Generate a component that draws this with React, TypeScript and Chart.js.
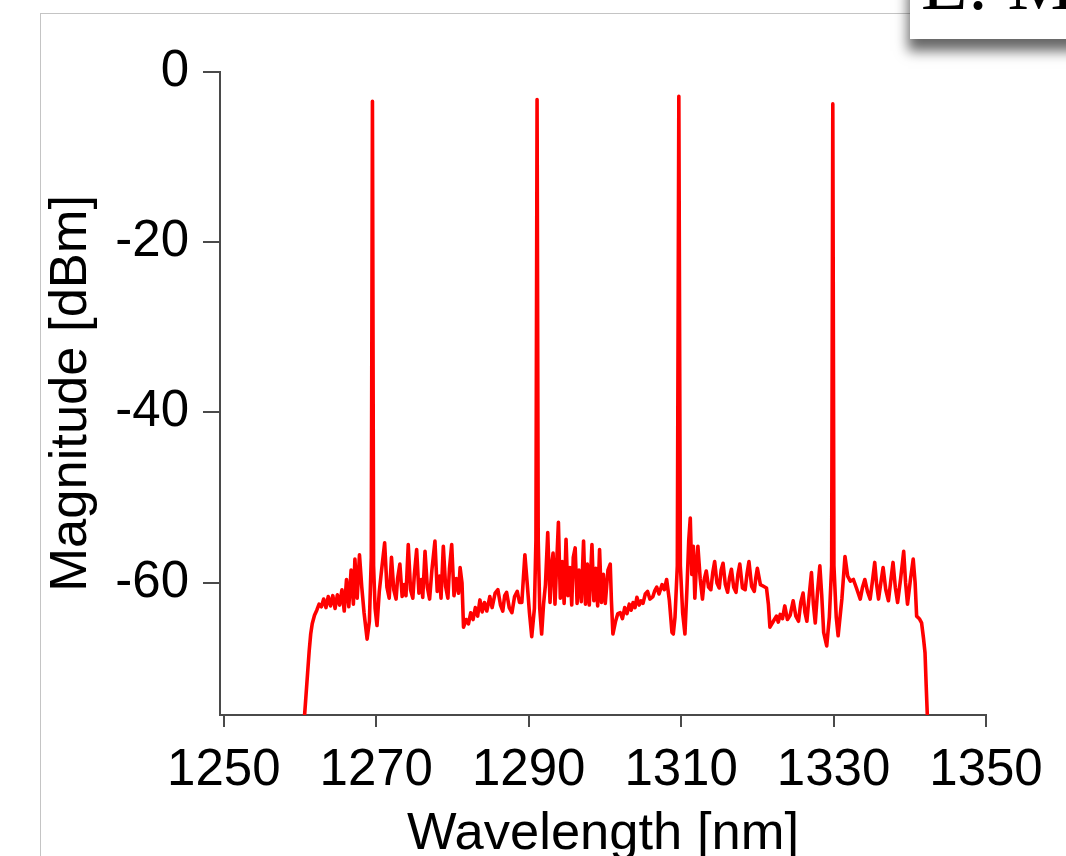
import React, { useEffect, useRef } from 'react';
import { Chart, registerables } from 'chart.js';

Chart.register(...registerables);

// Optical spectrum: [wavelength nm, magnitude dBm]
const spectrum: [number, number][] = [
  [1260.6, -75.5], [1260.8, -73], [1261.0, -70.5], [1261.2, -68], [1261.4, -66], [1261.6, -64.8],
  [1261.9, -63.8], [1262.2, -63.2], [1262.5, -62.5], [1262.8, -62.8], [1263.1, -61.9], [1263.4, -62.9],
  [1263.7, -61.6], [1264.0, -62.7], [1264.3, -61.5], [1264.6, -63.0], [1264.9, -61.4], [1265.2, -62.6],
  [1265.5, -60.8], [1265.8, -63.3], [1266.1, -59.6], [1266.4, -62.8], [1266.7, -58.5], [1267.0, -62.5],
  [1267.2, -57.2], [1267.5, -61.8], [1267.8, -56.7], [1268.1, -60.5], [1268.4, -63.5], [1268.8, -66.6],
  [1269.1, -64.5], [1269.35, -57], [1269.5, -3.5], [1269.65, -58], [1269.85, -63], [1270.1, -65],
  [1270.4, -61], [1270.7, -58.5], [1271.1, -55.3], [1271.4, -60.5], [1271.7, -61.8], [1272.0, -57.0],
  [1272.3, -60.8], [1272.6, -61.9], [1272.8, -59.5], [1273.1, -57.8], [1273.4, -61.6], [1273.7, -60.2],
  [1273.9, -61.5], [1274.2, -55.5], [1274.5, -60.8], [1274.8, -61.8], [1275.0, -59], [1275.3, -56.1],
  [1275.6, -61.2], [1275.9, -59.6], [1276.1, -61.7], [1276.4, -56.3], [1276.7, -60.5], [1277.0, -61.9],
  [1277.3, -58.5], [1277.7, -55.1], [1278.0, -61.0], [1278.3, -59.2], [1278.5, -61.8], [1278.8, -55.7],
  [1279.1, -60.4], [1279.4, -61.8], [1279.6, -58.4], [1279.9, -55.5], [1280.2, -61.5], [1280.5, -59.5],
  [1280.8, -61.2], [1281.0, -58.2], [1281.25, -60], [1281.45, -65.2], [1281.8, -64.3], [1282.1, -64.8],
  [1282.4, -63.5], [1282.7, -64.3], [1283.0, -62.9], [1283.3, -63.9], [1283.6, -62.0], [1283.9, -63.4],
  [1284.2, -62.3], [1284.5, -63.3], [1284.9, -61.6], [1285.2, -62.9], [1285.6, -61.2], [1285.96, -60.8],
  [1286.3, -62.6], [1286.6, -63.3], [1286.85, -61.5], [1287.1, -61.1], [1287.45, -62.9], [1287.8, -63.5],
  [1288.15, -61.6], [1288.5, -61.0], [1288.8, -62.3], [1289.1, -62.3], [1289.3, -59.5], [1289.5, -56.7],
  [1289.8, -60.0], [1290.1, -63.5], [1290.4, -66.3], [1290.75, -63], [1290.95, -55], [1291.1, -3.3],
  [1291.25, -55], [1291.45, -63], [1291.7, -66.0], [1291.95, -62.5], [1292.2, -60.2], [1292.5, -54.1],
  [1292.8, -62.3], [1293.0, -58], [1293.2, -56.5], [1293.45, -62.5], [1293.9, -52.9], [1294.15, -61.8],
  [1294.4, -57.5], [1294.65, -62.4], [1294.9, -54.9], [1295.15, -61.5], [1295.4, -58.2], [1295.65, -62.6],
  [1295.85, -57.0], [1296.1, -55.9], [1296.35, -62.4], [1296.6, -58.5], [1296.9, -62.2], [1297.2, -55.1],
  [1297.45, -62.5], [1297.7, -57.8], [1297.95, -62.6], [1298.3, -55.5], [1298.55, -62.1], [1298.8, -58.3],
  [1299.05, -62.7], [1299.3, -56.1], [1299.55, -62.3], [1299.8, -59], [1300.05, -62.4], [1300.4, -58.5],
  [1300.7, -57.8], [1300.85, -62], [1301.05, -66.0], [1301.4, -64.5], [1301.7, -63.6], [1302.0, -63.5],
  [1302.3, -64.2], [1302.6, -62.9], [1302.9, -63.6], [1303.2, -62.5], [1303.45, -63.2], [1303.7, -62.3],
  [1303.95, -62.9], [1304.2, -61.7], [1304.5, -62.6], [1304.75, -62.1], [1305.0, -62.4], [1305.3, -61.3],
  [1305.6, -61.0], [1305.9, -61.9], [1306.3, -61.6], [1306.55, -60.9], [1306.8, -60.5], [1307.1, -61.3],
  [1307.5, -60.2], [1307.8, -60.8], [1308.1, -59.6], [1308.45, -62], [1308.8, -65.8], [1308.97, -66],
  [1309.2, -64], [1309.5, -58], [1309.7, -2.9], [1309.9, -58], [1310.2, -63.5], [1310.5, -66],
  [1310.75, -61], [1311.0, -55], [1311.2, -52.4], [1311.4, -59], [1311.6, -55.7], [1311.8, -61.8],
  [1312.0, -58], [1312.2, -55.7], [1312.5, -59.5], [1312.8, -61.9], [1313.05, -59.5], [1313.3, -58.6],
  [1313.6, -60.5], [1313.9, -60.8], [1314.15, -58.8], [1314.4, -57.5], [1314.7, -60], [1315.0, -60.6],
  [1315.25, -58.5], [1315.5, -57.7], [1315.8, -60.2], [1316.1, -61.1], [1316.35, -59.4], [1316.6, -58.4],
  [1316.9, -60.5], [1317.2, -61.1], [1317.45, -59], [1317.7, -57.8], [1318.05, -60.6], [1318.4, -60.8],
  [1318.65, -58.9], [1318.9, -57.5], [1319.25, -60.4], [1319.6, -61.0], [1319.8, -59.4], [1320.0, -58.3],
  [1320.4, -60.2], [1320.8, -60.4], [1321.2, -60.6], [1321.45, -62.5], [1321.65, -65.2], [1322.1, -64.5],
  [1322.5, -63.9], [1322.75, -64.6], [1323.0, -63.7], [1323.3, -64.2], [1323.6, -62.7], [1323.95, -64.3],
  [1324.3, -63.8], [1324.7, -62.1], [1325.05, -63.9], [1325.4, -64.5], [1325.7, -62.3], [1326.0, -61.2],
  [1326.25, -63.5], [1326.5, -64.5], [1326.8, -61.5], [1327.1, -58.8], [1327.35, -62.5], [1327.6, -64.7],
  [1327.9, -61.0], [1328.2, -58.0], [1328.45, -61.5], [1328.7, -65.8], [1329.1, -67.4], [1329.45, -64],
  [1329.75, -58], [1329.9, -3.8], [1330.05, -58], [1330.35, -64], [1330.6, -66.2], [1331.1, -61.8],
  [1331.5, -56.9], [1331.85, -59.2], [1332.2, -59.8], [1332.6, -59.6], [1333.0, -60.6], [1333.5, -61.9],
  [1333.8, -60.5], [1334.1, -59.6], [1334.45, -61.0], [1334.8, -61.9], [1335.1, -59.8], [1335.4, -57.6],
  [1335.65, -60.2], [1335.9, -61.9], [1336.2, -60], [1336.5, -58.2], [1336.85, -60.8], [1337.2, -62.1],
  [1337.5, -59.8], [1337.8, -57.6], [1338.1, -60.5], [1338.4, -62.3], [1338.8, -59.5], [1339.2, -56.3],
  [1339.45, -60], [1339.7, -62.5], [1340.1, -59.5], [1340.45, -57.2], [1340.7, -60], [1340.9, -63.9],
  [1341.25, -64.2], [1341.55, -64.7], [1341.8, -66.5], [1342.0, -68.2], [1342.15, -72], [1342.3, -75.5],
];

const xTickValues = [1250, 1270, 1290, 1310, 1330, 1350];
const yTickValues = [-60, -40, -20, 0];

const xLabel = 'Wavelength [nm]';
const yLabel = 'Magnitude [dBm]';
const cornerText = 'E: M';

const FONT = '"Liberation Sans", Arial, sans-serif';
const AXIS = '#4a4a4a';

export default function App() {
  const ref = useRef<HTMLCanvasElement | null>(null);

  useEffect(() => {
    if (!ref.current) return;
    const chart = new Chart(ref.current, {
      type: 'line',
      data: {
        datasets: [
          {
            data: spectrum.map(([x, y]) => ({ x, y })),
            borderColor: '#ff0000',
            borderWidth: 3.6,
            borderJoinStyle: 'round',
            borderCapStyle: 'round',
            pointRadius: 0,
            tension: 0,
            fill: false,
          },
        ],
      },
      options: {
        animation: false,
        responsive: false,
        events: [],
        layout: { padding: { top: 71.5, right: 80, left: 0, bottom: 0 } },
        plugins: { legend: { display: false }, tooltip: { enabled: false } },
        scales: {
          x: {
            type: 'linear',
            min: 1249.5,
            max: 1350,
            afterBuildTicks: (s: any) => {
              s.ticks = xTickValues.map((v) => ({ value: v }));
            },
            afterFit: (s: any) => {
              s.height = 141;
            },
            grid: { drawOnChartArea: false, drawTicks: true, tickLength: 12, color: AXIS, lineWidth: 2 },
            border: { display: true, color: AXIS, width: 2 },
            ticks: {
              padding: 13,
              autoSkip: false,
              maxRotation: 0,
              color: '#000',
              font: { family: FONT, size: 51 },
              callback: (v: any) => String(v),
            },
            title: {
              display: true,
              text: xLabel,
              color: '#000',
              padding: { top: 0, bottom: 0 },
              font: { family: FONT, size: 52.5, lineHeight: 0.8 },
            },
          },
          y: {
            type: 'linear',
            min: -75.5,
            max: 0,
            afterBuildTicks: (s: any) => {
              s.ticks = yTickValues.map((v) => ({ value: v }));
            },
            afterFit: (s: any) => {
              s.width = 220;
            },
            grid: { drawOnChartArea: false, drawTicks: true, tickLength: 17, color: AXIS, lineWidth: 2 },
            border: { display: true, color: AXIS, width: 2 },
            ticks: {
              padding: 14,
              autoSkip: false,
              color: '#000',
              font: { family: FONT, size: 51 },
              callback: (v: any) => String(v),
            },
            title: {
              display: true,
              text: yLabel,
              color: '#000',
              padding: { top: 40, bottom: 0 },
              font: { family: FONT, size: 52.5, lineHeight: 1.2 },
            },
          },
        },
      },
    });
    return () => chart.destroy();
  }, []);

  return (
    <div
      style={{
        position: 'absolute',
        left: 0,
        top: 0,
        width: 1066,
        height: 856,
        overflow: 'hidden',
        background: '#fff',
      }}
    >
      <div
        style={{
          position: 'absolute',
          left: 40,
          top: 13,
          width: 1200,
          height: 1000,
          borderLeft: '1px solid #c4c4c4',
          borderTop: '1px solid #c4c4c4',
        }}
      />
      <canvas
        ref={ref}
        width={1066}
        height={856}
        style={{ position: 'absolute', left: 0, top: 0, width: 1066, height: 856 }}
      />
      <div
        style={{
          position: 'absolute',
          left: 910,
          top: -20,
          width: 220,
          height: 59,
          background: '#fff',
          boxShadow: '0 10px 12px 2px rgba(0,0,0,0.6)',
        }}
      />
      <div
        style={{
          position: 'absolute',
          left: 921,
          top: -55,
          fontFamily: '"Liberation Serif", "Times New Roman", serif',
          fontSize: 76,
          lineHeight: '76px',
          color: '#000',
          whiteSpace: 'nowrap',
        }}
      >
        {cornerText}
      </div>
    </div>
  );
}
